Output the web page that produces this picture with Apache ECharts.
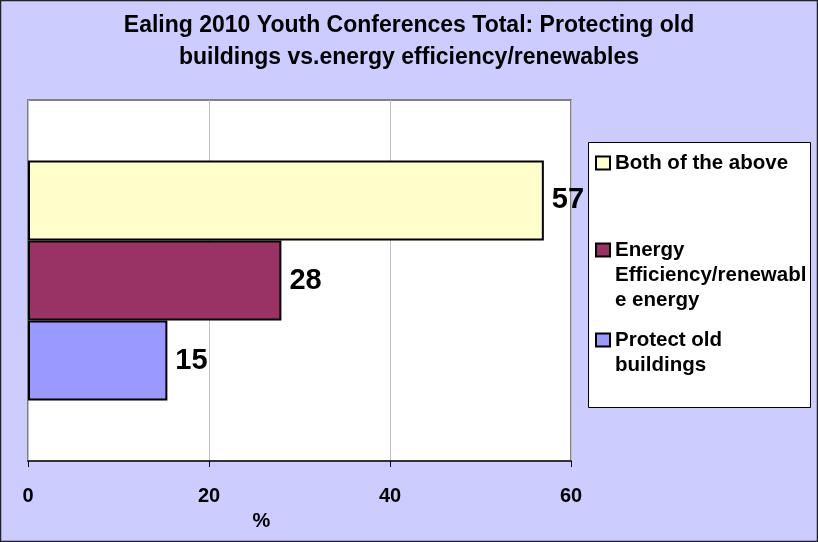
<!DOCTYPE html>
<html>
<head>
<meta charset="utf-8">
<script src="https://cdn.jsdelivr.net/npm/echarts@6/dist/echarts.min.js"></script>
<style>
html,body{margin:0;padding:0;background:#CCCCFF;}
#c{width:818px;height:542px;}
</style>
</head>
<body>
<div id="c"></div>
<script>
var titleText = 'Ealing 2010 Youth Conferences Total: Protecting old\nbuildings vs.energy efficiency/renewables';
var categories = ['Total'];
var seriesNames = ['Both of the above', 'Energy Efficiency/renewable energy', 'Protect old buildings'];
var bothValues = [57];
var energyValues = [28];
var protectValues = [15.4];
var xTicks = {min: 0, max: 60, interval: 20};
var axisName = '%';

var FONT = '"Liberation Sans", Arial, sans-serif';
var colors = ['#FFFFCC', '#993366', '#9999FF'];
var values = [bothValues, energyValues, protectValues];

var chart = echarts.init(document.getElementById('c'));

var series = seriesNames.map(function (n, i) {
  return {
    name: n,
    type: 'bar',
    data: values[i],
    barGap: '0%',
    barCategoryGap: '33.5%',
    itemStyle: {color: colors[i], borderColor: '#000', borderWidth: 2},
    label: {
      show: true, position: 'right', distance: 8,
      fontFamily: FONT, fontWeight: 'bold', fontSize: 29, color: '#000',
      formatter: function (p) { return Math.round(p.value); }
    },
    emphasis: {disabled: true}
  };
});

function legendFor(name, top, label) {
  return {
    show: true, orient: 'vertical', left: 595, top: top, padding: 0, z: 10,
    selectedMode: false,
    itemWidth: 14, itemHeight: 13, itemGap: 0,
    icon: 'rect',
    data: [{name: name}],
    formatter: function () { return label; },
    textStyle: {fontFamily: FONT, fontWeight: 'bold', fontSize: 20.5, color: '#000', lineHeight: 25}
  };
}

chart.setOption({
  backgroundColor: '#CCCCFF',
  animation: false,
  title: {
    text: titleText, left: 'center', top: 5,
    textStyle: {fontFamily: FONT, fontWeight: 'bold', fontSize: 23, color: '#000', lineHeight: 32}
  },
  legend: [
    legendFor(seriesNames[0], 150.5, 'Both of the above'),
    legendFor(seriesNames[1], 187.5, '\n\nEnergy\nEfficiency/renewabl\ne energy'),
    legendFor(seriesNames[2], 302.5, '\nProtect old\nbuildings')
  ],
  graphic: [
    {type: 'rect', shape: {x: 588.5, y: 142.5, width: 222, height: 265}, style: {fill: '#fff', stroke: '#000', lineWidth: 1}, z: 1},
    {type: 'rect', shape: {x: 0.5, y: 0.5, width: 817, height: 541}, style: {fill: 'none', stroke: '#222', lineWidth: 1.5}, z: 100, silent: true}
  ],
  grid: {
    left: 28, right: 247, top: 100, bottom: 81,
    show: true, backgroundColor: '#fff', borderColor: '#808080', borderWidth: 2
  },
  xAxis: {
    type: 'value', min: xTicks.min, max: xTicks.max, interval: xTicks.interval,
    name: axisName, nameLocation: 'middle', nameGap: 50,
    nameTextStyle: {fontFamily: FONT, fontWeight: 'bold', fontSize: 20, color: '#000', padding: [0, 76, 0, 0]},
    axisLine: {show: true, lineStyle: {color: '#333', width: 2}},
    axisTick: {show: true, length: 6, lineStyle: {color: '#000', width: 1}},
    axisLabel: {fontFamily: FONT, fontWeight: 'bold', fontSize: 20, color: '#000', margin: 25},
    splitLine: {show: true, lineStyle: {color: '#c0c0c0', width: 1}}
  },
  yAxis: {
    type: 'category', data: categories,
    axisLine: {show: false}, axisTick: {show: false}, axisLabel: {show: false}, splitLine: {show: false}
  },
  series: series
});
</script>
</body>
</html>
